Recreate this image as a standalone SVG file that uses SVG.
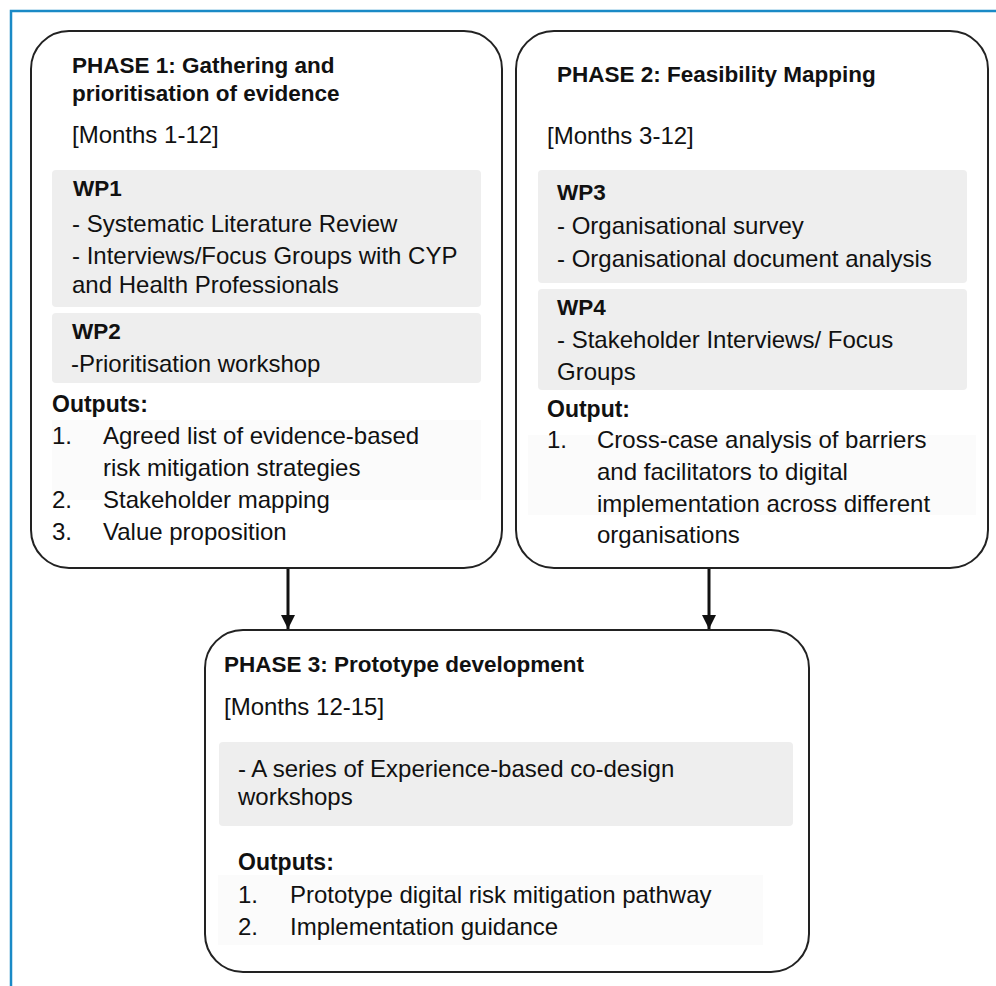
<svg xmlns="http://www.w3.org/2000/svg" width="996" height="986" viewBox="0 0 996 986">
<style>
.box{fill:#fff;stroke:#222;stroke-width:2}
.wp{fill:#eeeeee}
.faint{fill:#fbfbfb}
text{font-family:"Liberation Sans",Arial,sans-serif;fill:#111}
.h{font-weight:bold;font-size:22.5px}
.b{font-size:24px}
.o{font-weight:bold;font-size:23px}
.conn{stroke:#111;stroke-width:3;fill:none}
</style>
<defs>
<marker id="ah" markerWidth="14" markerHeight="14" refX="14" refY="7" orient="auto" markerUnits="userSpaceOnUse" viewBox="0 0 14 14">
<path d="M0,0 L14,7 L0,14 Z" fill="#111"/>
</marker>
</defs>
<rect width="996" height="986" fill="#fff"/>
<path d="M11,986 L11,11 L996,11" fill="none" stroke="#1a8ac6" stroke-width="2.5"/>

<g id="phase1">
<rect class="box" x="31" y="31" width="471" height="537" rx="38"/>
<rect class="wp" x="52" y="170" width="429" height="137" rx="4"/>
<rect class="wp" x="52" y="313" width="429" height="70" rx="4"/>
<rect class="faint" x="52" y="420" width="429" height="80"/>
<text class="h" x="72" y="73">PHASE 1: Gathering and</text>
<text class="h" x="72" y="101">prioritisation of evidence</text>
<text class="b" x="72" y="143">[Months 1-12]</text>
<text class="h" x="73" y="196">WP1</text>
<text class="b" x="72" y="232">- Systematic Literature Review</text>
<text class="b" x="72" y="264">- Interviews/Focus Groups with CYP</text>
<text class="b" x="72" y="293">and Health Professionals</text>
<text class="h" x="72" y="339">WP2</text>
<text class="b" x="71" y="372">-Prioritisation workshop</text>
<text class="o" x="52" y="412">Outputs:</text>
<text class="b" x="52" y="444">1.</text>
<text class="b" x="103" y="444">Agreed list of evidence-based</text>
<text class="b" x="103" y="476">risk mitigation strategies</text>
<text class="b" x="52" y="508">2.</text>
<text class="b" x="103" y="508">Stakeholder mapping</text>
<text class="b" x="52" y="540">3.</text>
<text class="b" x="103" y="540">Value proposition</text>
</g>

<g id="phase2">
<rect class="box" x="516" y="31" width="472" height="537" rx="38"/>
<rect class="wp" x="538" y="170" width="429" height="113" rx="4"/>
<rect class="wp" x="538" y="289" width="429" height="101" rx="4"/>
<rect class="faint" x="528" y="435" width="448" height="80"/>
<text class="h" x="557" y="82">PHASE 2: Feasibility Mapping</text>
<text class="b" x="547" y="144">[Months 3-12]</text>
<text class="h" x="557" y="200">WP3</text>
<text class="b" x="557" y="234">- Organisational survey</text>
<text class="b" x="557" y="267">- Organisational document analysis</text>
<text class="h" x="557" y="315">WP4</text>
<text class="b" x="557" y="348">- Stakeholder Interviews/ Focus</text>
<text class="b" x="557" y="380">Groups</text>
<text class="o" x="547" y="417">Output:</text>
<text class="b" x="547" y="448">1.</text>
<text class="b" x="597" y="448">Cross-case analysis of barriers</text>
<text class="b" x="597" y="480">and facilitators to digital</text>
<text class="b" x="597" y="512">implementation across different</text>
<text class="b" x="597" y="543">organisations</text>
</g>

<g id="phase3">
<rect class="box" x="205" y="630" width="604" height="342" rx="38"/>
<rect class="wp" x="219" y="742" width="574" height="84" rx="4"/>
<rect class="faint" x="218" y="875" width="545" height="70"/>
<text class="h" x="224" y="672">PHASE 3: Prototype development</text>
<text class="b" x="224" y="715">[Months 12-15]</text>
<text class="b" x="238" y="777">- A series of Experience-based co-design</text>
<text class="b" x="238" y="805">workshops</text>
<text class="o" x="238" y="870">Outputs:</text>
<text class="b" x="238" y="903">1.</text>
<text class="b" x="290" y="903">Prototype digital risk mitigation pathway</text>
<text class="b" x="238" y="935">2.</text>
<text class="b" x="290" y="935">Implementation guidance</text>
</g>

<g id="connectors">
<line class="conn" x1="288" y1="569" x2="288" y2="629" marker-end="url(#ah)"/>
<line class="conn" x1="709" y1="569" x2="709" y2="629" marker-end="url(#ah)"/>
</g>
</svg>
